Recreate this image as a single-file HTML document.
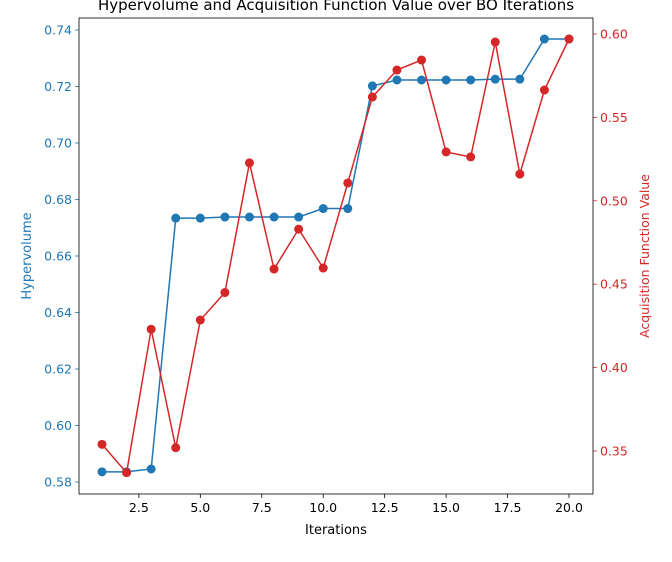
<!DOCTYPE html>
<html><head><meta charset="utf-8"><style>
body{margin:0;background:#fff;}
svg{display:block;font-family:"DejaVu Sans","Liberation Sans",sans-serif;}
</style></head><body>
<svg id="chart" width="672" height="562" xmlns="http://www.w3.org/2000/svg"></svg>
<script>
const iterations=[1,2,3,4,5,6,7,8,9,10,11,12,13,14,15,16,17,18,19,20];
const hypervolume=[0.5836,0.5836,0.5846,0.6734,0.6734,0.6738,0.6738,0.6738,0.6738,0.6768,0.6768,0.7202,0.7223,0.7223,0.7223,0.7223,0.7226,0.7226,0.7368,0.7368];
const acquisition=[0.354,0.337,0.423,0.352,0.4285,0.445,0.5227,0.4591,0.483,0.4597,0.5107,0.5622,0.5784,0.5844,0.5293,0.5263,0.5952,0.516,0.5664,0.597];
const xTicks=[2.5,5.0,7.5,10.0,12.5,15.0,17.5,20.0];
const yLeftTicks=[0.58,0.60,0.62,0.64,0.66,0.68,0.70,0.72,0.74];
const yRightTicks=[0.35,0.40,0.45,0.50,0.55,0.60];

const L=79,R=593,T=18,B=494;
const xs=v=>102+(v-1)*(569-102)/19;
const yl=v=>30+(0.74-v)*(482-30)/0.16;
const yr=v=>34+(0.60-v)*(451-34)/0.25;
const svg=document.getElementById('chart');
const NS='http://www.w3.org/2000/svg';
function el(tag,attrs,parent){const e=document.createElementNS(NS,tag);for(const k in attrs)e.setAttribute(k,attrs[k]);(parent||svg).appendChild(e);return e;}

let t=el('text',{x:336,y:10,'text-anchor':'middle','font-size':15,fill:'#000'});
t.textContent='Hypervolume and Acquisition Function Value over BO Iterations';



xTicks.forEach(v=>{const x=xs(v);
 el('line',{x1:x,x2:x,y1:B,y2:B+4,stroke:'#000','stroke-width':0.8});
 const tx=el('text',{x:x,y:B+18,'text-anchor':'middle','font-size':12.5,fill:'#000'});tx.textContent=v.toFixed(1);
 
 
});
yLeftTicks.forEach(v=>{const y=yl(v);
 el('line',{x1:L-4,x2:L,y1:y,y2:y,stroke:'#1f77b4','stroke-width':0.8});
 const tx=el('text',{x:L-7,y:y+4.5,'text-anchor':'end','font-size':12.5,fill:'#1f77b4'});tx.textContent=v.toFixed(2);
 
 
});
yRightTicks.forEach(v=>{const y=yr(v);
 el('line',{x1:R,x2:R+4,y1:y,y2:y,stroke:'#d62728','stroke-width':0.8});
 const tx=el('text',{x:R+7,y:y+4.5,'text-anchor':'start','font-size':12.5,fill:'#d62728'});tx.textContent=v.toFixed(2);
 
 
});
t=el('text',{x:336,y:534,'text-anchor':'middle','font-size':13,fill:'#000'});t.textContent='Iterations';


t=el('text',{x:31,y:256,'text-anchor':'middle','font-size':13,fill:'#1f77b4',transform:'rotate(-90 31 256)'});t.textContent='Hypervolume';


t=el('text',{x:649,y:256,'text-anchor':'middle','font-size':12.5,fill:'#d62728',transform:'rotate(-90 649 256)'});t.textContent='Acquisition Function Value';



function series(vals,ys,color,name){
 const g=el('g',{});
 
 
 el('polyline',{points:vals.map((v,i)=>xs(iterations[i])+','+ys(v)).join(' '),fill:'none',stroke:color,'stroke-width':1.5},g);
 vals.forEach((v,i)=>{const c=el('circle',{cx:xs(iterations[i]),cy:ys(v),r:4.5,fill:color},g);
  
  
 });
}
series(hypervolume,yl,'#1f77b4','hypervolume-series');
series(acquisition,yr,'#d62728','acquisition-series');

const f=el('rect',{x:L,y:T,width:R-L,height:B-T,fill:'none',stroke:'#000','stroke-width':0.8});


</script>
</body></html>
